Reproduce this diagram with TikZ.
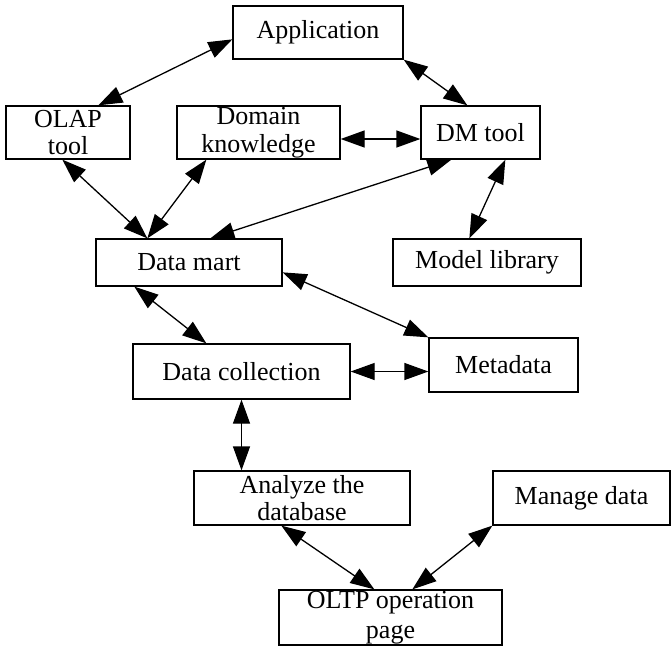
\documentclass[tikz,border=0pt]{standalone}
\usepackage{fontspec}
\setmainfont{Liberation Serif}
\usetikzlibrary{arrows.meta,calc}
\begin{document}
\begin{tikzpicture}[x=1pt,y=-1pt,
  box/.style={draw, line width=1.3pt, rectangle, inner sep=0pt, align=center,
    font=\fontsize{26}{27.5}\selectfont},
  link/.style={line width=1.3pt,
    {Triangle[length=24pt,width=17pt]}-{Triangle[length=24pt,width=17pt]}}]
\useasboundingbox (0,0) rectangle (671,646);

% boxes
\node[box, minimum width=170pt, minimum height=53pt] (app)  at (318,32.5)   {Application};
\node[box, minimum width=124pt, minimum height=53pt] (olap) at (68,132.5)   {OLAP\\tool};
\node[box, minimum width=163pt, minimum height=53pt] (dom)  at (258.5,132.5){Domain\\knowledge};
\node[box, minimum width=119pt, minimum height=53pt] (dm)   at (480.5,132.5){DM tool};
\node[box, minimum width=186pt, minimum height=47pt] (mart) at (189,262.5)  {Data mart};
\node[box, minimum width=188pt, minimum height=47pt] (lib)  at (487,262.5)  {Model library};
\node[box, minimum width=217pt, minimum height=55pt] (coll) at (241.5,371.5){Data collection};
\node[box, minimum width=149pt, minimum height=54pt] (meta) at (503.5,365)  {Metadata};
\node[box, minimum width=216pt, minimum height=54pt] (ana)  at (302,498)    {Analyze the\\database};
\node[box, minimum width=177pt, minimum height=54pt] (mng)  at (581.5,498)  {Manage data};
\node[box, minimum width=223pt, minimum height=55pt] (oltp) at (390.5,617.5){OLTP operation\\[2pt]page};

% connectors
\draw[link] ($(app.north west)+(0,34)$) -- ($(olap.north west)+(93,0)$);
\draw[link] (app.south east) -- ($(dm.north west)+(47,0)$);
\draw[link] ($(dom.east)+(0,6.5)$) -- ($(dm.west)+(0,6.5)$);
\draw[link] ($(olap.south west)+(57,0)$) -- ($(mart.north west)+(52,0)$);
\draw[link] ($(dom.south west)+(30,0)$) -- ($(mart.north west)+(52,0)$);
\draw[link] ($(dm.south west)+(31,0)$) -- ($(mart.north west)+(115,0)$);
\draw[link] ($(dm.south west)+(85,0)$) -- ($(lib.north west)+(77,0)$);
\draw[link] ($(mart.south west)+(39,0)$) -- ($(coll.north west)+(74,0)$);
\draw[link] ($(mart.north east)+(0,34)$) -- (meta.north west);
\draw[link] (coll.east) -- (coll.east -| meta.west);
\draw[link] (coll.south) -- (coll.south |- ana.north);
\draw[link] ($(ana.south west)+(88,0)$) -- ($(oltp.north west)+(96,0)$);
\draw[link] (mng.south west) -- ($(oltp.north west)+(134,0)$);
\end{tikzpicture}
\end{document}
